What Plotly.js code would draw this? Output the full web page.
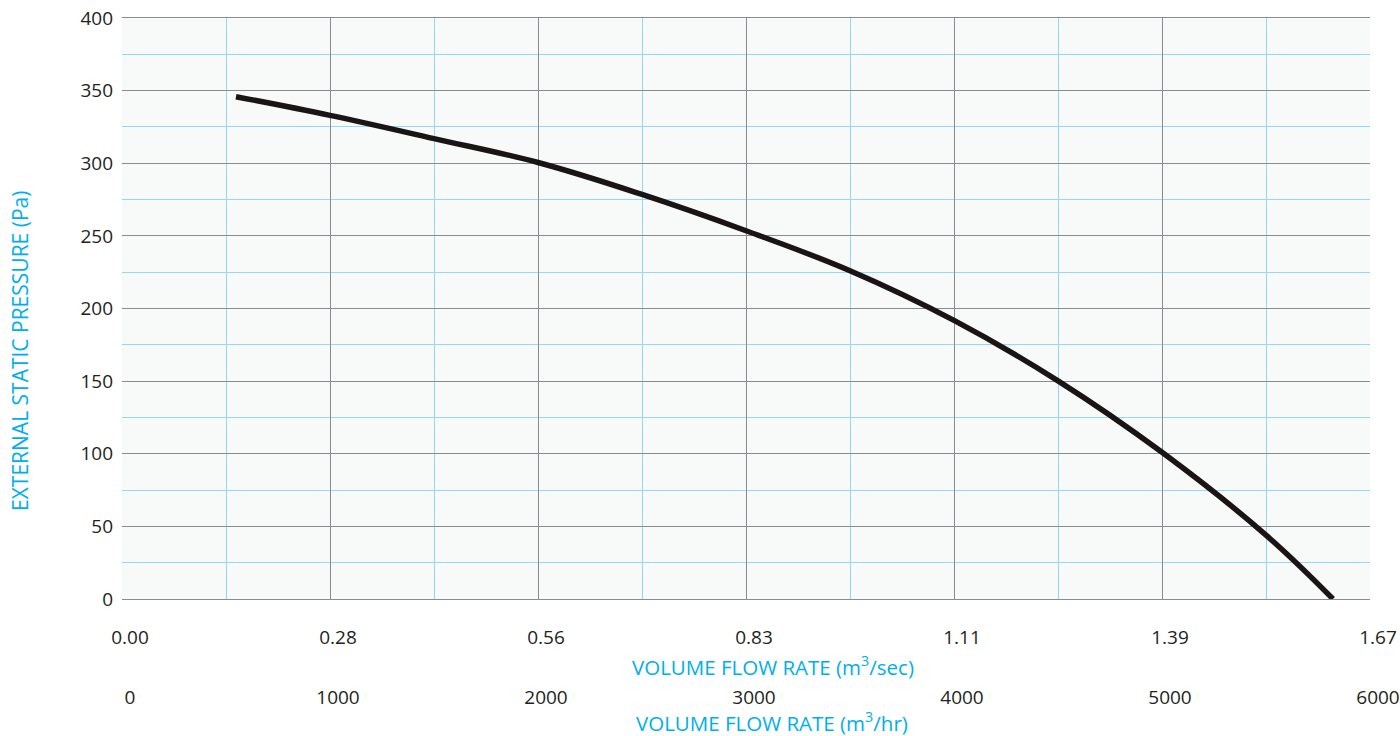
<!DOCTYPE html>
<html>
<head>
<meta charset="utf-8">
<script src="https://cdn.plot.ly/plotly-3.0.1.min.js"></script>
<style>html,body{margin:0;padding:0;background:#fff;}#chart{width:1400px;height:736px;}</style>
</head>
<body>
<div id="chart"></div>
<script>
// Fan curve data
const flowM3hr = [548, 1000, 1500, 2000, 2500, 3000, 3500, 4000, 4500, 5000, 5500, 5822];
const pressurePa = [345.8, 333, 317, 300.5, 278.5, 253.5, 226, 191.8, 150.2, 101, 44, 0];

// Tick labels
const hrTickVals = [0, 1000, 2000, 3000, 4000, 5000, 6000];
const hrTickText = ['0', '1000', '2000', '3000', '4000', '5000', '6000'];
const secTickText = ['0.00', '0.28', '0.56', '0.83', '1.11', '1.39', '1.67'];
const yTickVals = [0, 50, 100, 150, 200, 250, 300, 350, 400];
const yMinorVals = [25, 75, 125, 175, 225, 275, 325, 375];
const xGridVals = [1000, 2000, 3000, 4000, 5000];
const xMinorVals = [500, 1500, 2500, 3500, 4500, 5500];

const titleY = 'EXTERNAL STATIC PRESSURE (Pa)';
const titleSec = 'VOLUME FLOW RATE (m<sup>3</sup>/sec)';
const titleHr = 'VOLUME FLOW RATE (m<sup>3</sup>/hr)';

const FONT = '"Open Sans", "Noto Sans", sans-serif';
const CYAN = '#00aeef';
const GRID = '#8a8a90';
const MINOR = '#93d8f4';
const TXT = '#231f20';

const traces = [
  {
    x: flowM3hr, y: pressurePa, type: 'scatter', mode: 'lines',
    line: {color: '#1a1414', width: 5.5, shape: 'spline', smoothing: 1.1},
    hoverinfo: 'x+y', showlegend: false
  },
  // invisible carriers so the two labelled flow axes are drawn
  {x: hrTickVals, y: hrTickVals.map(() => null), xaxis: 'x2', yaxis: 'y', type: 'scatter', mode: 'lines',
   line: {width: 0}, hoverinfo: 'skip', showlegend: false},
  {x: hrTickVals, y: hrTickVals.map(() => null), xaxis: 'x3', yaxis: 'y', type: 'scatter', mode: 'lines',
   line: {width: 0}, hoverinfo: 'skip', showlegend: false}
];

const layout = {
  width: 1400, height: 736,
  margin: {l: 122, r: 30, t: 18, b: 137},
  paper_bgcolor: '#ffffff',
  plot_bgcolor: '#f7faf8',
  font: {family: FONT, size: 19, color: TXT},
  showlegend: false,
  xaxis: {
    range: [0, 6000], fixedrange: true,
    tickmode: 'array', tickvals: xGridVals, showticklabels: false, ticks: '',
    showgrid: true, gridcolor: GRID, gridwidth: 1, zeroline: false,
    minor: {tickmode: 'array', tickvals: xMinorVals, showgrid: true, gridcolor: MINOR, gridwidth: 1, ticks: ''},
    showline: true, linecolor: GRID, linewidth: 1, mirror: true
  },
  xaxis2: {
    overlaying: 'x', anchor: 'y', side: 'bottom', range: [0, 6000], fixedrange: true,
    tickmode: 'array', tickvals: hrTickVals, ticktext: secTickText,
    showgrid: false, zeroline: false, ticks: '', showline: false,
    ticklabelstandoff: 25, ticklabelshift: 8,
    tickfont: {family: FONT, size: 19, color: TXT}
  },
  xaxis3: {
    overlaying: 'x', anchor: 'y', side: 'bottom', range: [0, 6000], fixedrange: true,
    tickmode: 'array', tickvals: hrTickVals, ticktext: hrTickText,
    showgrid: false, zeroline: false, ticks: '', showline: false,
    ticklabelstandoff: 85, ticklabelshift: 8,
    tickfont: {family: FONT, size: 19, color: TXT}
  },
  yaxis: {
    range: [0, 400], fixedrange: true,
    tickmode: 'array', tickvals: yTickVals, ticks: '',
    showgrid: true, gridcolor: GRID, gridwidth: 1, zeroline: false,
    minor: {tickmode: 'array', tickvals: yMinorVals, showgrid: true, gridcolor: MINOR, gridwidth: 1, ticks: ''},
    ticklabelstandoff: 8,
    tickfont: {family: FONT, size: 19, color: TXT}
  },
  annotations: [
    {text: titleSec, xref: 'paper', yref: 'paper', x: 0.522, y: -0.1153, xanchor: 'center', yanchor: 'middle',
     showarrow: false, font: {family: FONT, size: 20.5, color: CYAN}},
    {text: titleHr, xref: 'paper', yref: 'paper', x: 0.521, y: -0.2117, xanchor: 'center', yanchor: 'middle',
     showarrow: false, font: {family: FONT, size: 20.5, color: CYAN}},
    {text: titleY, xref: 'paper', yref: 'paper', x: -0.0817, y: 0.427, xanchor: 'center', yanchor: 'middle',
     textangle: -90, showarrow: false, font: {family: FONT, size: 21, color: CYAN}}
  ]
};

Plotly.newPlot('chart', traces, layout, {displayModeBar: false, staticPlot: true});
</script>
</body>
</html>
